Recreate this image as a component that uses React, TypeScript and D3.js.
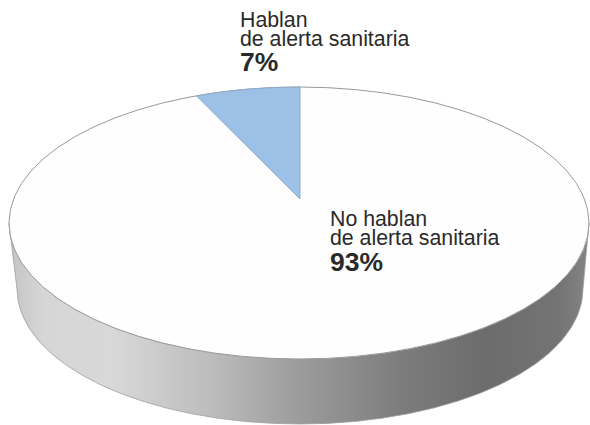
import React from "react";
import * as d3 from "d3";

const categories = ["Hablan", "No hablan"];
const subtitle = "de alerta sanitaria";
const values = [7, 93];
const sideStops = [0, 0.06, 0.18, 0.35, 0.5, 0.68, 0.82, 0.95, 1];
const sideGreys = ["#c4c4c4", "#d6d6d6", "#d8d8d8", "#bcbcbc", "#9c9c9c", "#7c7c7c", "#6c6c6c", "#747474", "#858585"];

const W = 590, H = 425;
const cx = 299, cy = 223, rx = 290, ry = 136;
const apexX = 300, apexY = 199;
const lowX = 300, lowCy = 289, lowRx = 283, lowRy = 135;

export default function App() {
  const pie = d3.pie<number>().sort(null).startAngle(-2 * Math.PI * values[0] / 100).endAngle(2 * Math.PI - 2 * Math.PI * values[0] / 100);
  const arcs = pie(values);
  const a = arcs[0].startAngle;
  // ray from off-centre apex along the projected direction until it meets the top ellipse
  const dx = rx * Math.sin(a), dy = -ry * Math.cos(a);
  const ox = apexX - cx, oy = apexY - cy;
  const A = (dx / rx) ** 2 + (dy / ry) ** 2;
  const B = 2 * (ox * dx / rx ** 2 + oy * dy / ry ** 2);
  const C = (ox / rx) ** 2 + (oy / ry) ** 2 - 1;
  const t = (-B + Math.sqrt(B * B - 4 * A * C)) / (2 * A);
  const ex = apexX + t * dx, ey = apexY + t * dy;
  const topY = cy - ry * Math.sqrt(1 - ((apexX - cx) / rx) ** 2);

  const slicePath = d3.path();
  slicePath.moveTo(apexX, apexY);
  slicePath.lineTo(ex, ey);
  const slice = `${slicePath.toString()}A${rx},${ry} 0 0 1 ${apexX},${topY}Z`;

  const side = `M${cx - rx},${cy}A${rx},${ry} 0 0 0 ${cx + rx},${cy}L${lowX + lowRx},${lowCy}A${lowRx},${lowRy} 0 0 1 ${lowX - lowRx},${lowCy}Z`;

  const textStyle = { fontFamily: "'Liberation Sans', Arial, sans-serif", fill: "#2a2a2a" };
  const pct = d3.format(".0f");

  return (
    <svg width={W} height={H} style={{ position: "absolute", left: 0, top: 0, background: "#fff" }}>
      <defs>
        <linearGradient id="side" x1="0" x2="1" y1="0" y2="0">
          {sideStops.map((s, i) => <stop key={i} offset={s} stopColor={sideGreys[i]} />)}
        </linearGradient>
      </defs>
      <path d={side} fill="url(#side)" stroke="#a0a0a0" strokeWidth={0.8} />
      <ellipse cx={cx} cy={cy} rx={rx} ry={ry} fill="#fefefe" stroke="#999" strokeWidth={1} />
      <path d={slice} fill="#9dc0e6" stroke="#8fa9c6" strokeWidth={1} />
      <g style={textStyle}>
        <text x={240} y={27} fontSize={21.3}>{categories[0]}</text>
        <text x={240} y={45.5} fontSize={21.3}>{subtitle}</text>
        <text x={240} y={70.5} fontSize={26.5} fontWeight="bold">{pct(values[0])}%</text>
        <text x={330} y={226} fontSize={21.3}>{categories[1]}</text>
        <text x={330} y={245} fontSize={21.3}>{subtitle}</text>
        <text x={330} y={270.5} fontSize={26.5} fontWeight="bold">{pct(values[1])}%</text>
      </g>
    </svg>
  );
}
